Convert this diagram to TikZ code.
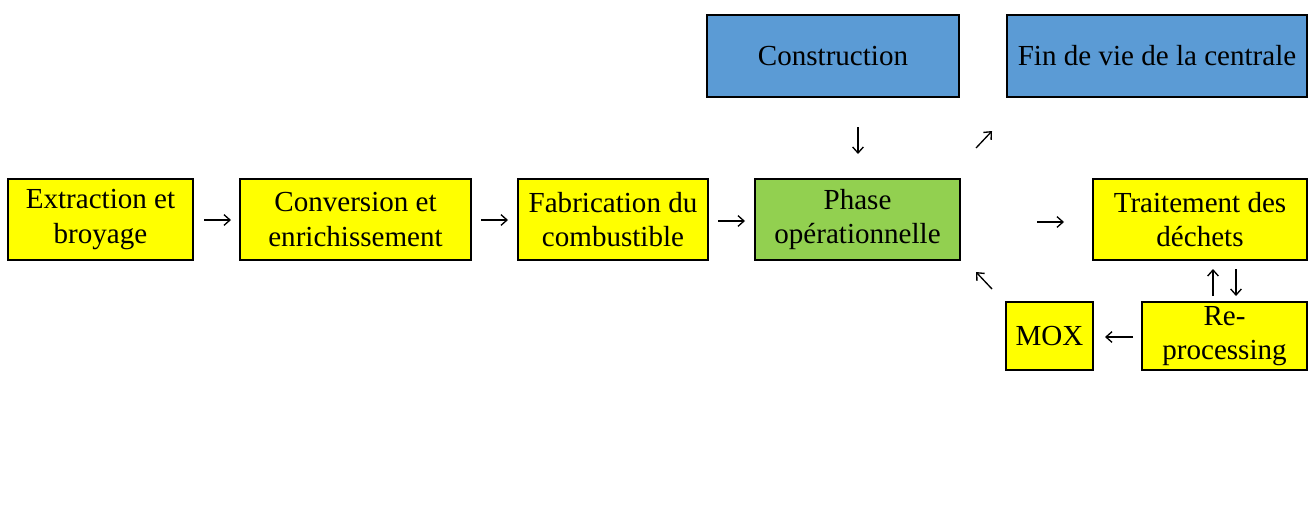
\documentclass[tikz,border=0pt]{standalone}
\usepackage{fontspec}
\setmainfont{Liberation Serif}
\usetikzlibrary{arrows.meta}
\definecolor{boxyellow}{HTML}{FFFF00}
\definecolor{boxgreen}{HTML}{92D050}
\definecolor{boxblue}{HTML}{5B9BD5}
\tikzset{
  box/.style={draw=black, line width=1.5pt, inner sep=0pt, align=center,
    font=\fontsize{21.8pt}{26pt}\selectfont},
  yb/.style={box, fill=boxyellow},
  gb/.style={box, fill=boxgreen},
  bb/.style={box, fill=boxblue},
  glyph/.style={line width=1pt, -{Straight Barb[length=4.5pt,width=8pt]}}
}
\begin{document}
\begin{tikzpicture}[x=0.75pt,y=-0.75pt]
\useasboundingbox (0,0) rectangle (1308,525);
% boxes
\node[yb, minimum width=138.75pt, minimum height=60.75pt] (ext) at (100.5,219.5) {Extraction et\\broyage};
\node[yb, minimum width=173.25pt, minimum height=60.75pt] (conv) at (355.5,219.5) {Conversion et\\enrichissement};
\node[yb, minimum width=142.5pt, minimum height=60.75pt] (fab) at (613,219.5) {Fabrication du\\combustible};
\node[gb, minimum width=153.75pt, minimum height=60.75pt] (phase) at (857.5,219.5) {Phase\\opérationnelle};
\node[bb, minimum width=189pt, minimum height=61.5pt] (cons) at (833,56) {Construction};
\node[bb, minimum width=225pt, minimum height=61.5pt] (fin) at (1157,56) {Fin de vie de la centrale};
\node[yb, minimum width=160.5pt, minimum height=60.75pt] (trait) at (1200,219.5) {Traitement des\\déchets};
\node[yb, minimum width=65.25pt, minimum height=51pt] (mox) at (1049.5,336) {MOX};
\node[yb, minimum width=123.75pt, minimum height=51pt] (repro) at (1224.5,336) {Re-\\processing};
% arrow end points
\coordinate (a1s) at (204,220); \coordinate (a1e) at (231,220);
\coordinate (a2s) at (481,220); \coordinate (a2e) at (508,220);
\coordinate (a3s) at (718,221); \coordinate (a3e) at (745,221);
\coordinate (a4s) at (858,127); \coordinate (a4e) at (858,154);
\coordinate (a5s) at (976,148); \coordinate (a5e) at (992,131);
\coordinate (a6s) at (1037,222); \coordinate (a6e) at (1064,222);
\coordinate (a7s) at (992,289); \coordinate (a7e) at (976,272);
\coordinate (a8s) at (1213,296); \coordinate (a8e) at (1213,269);
\coordinate (a9s) at (1236,269); \coordinate (a9e) at (1236,296);
\coordinate (a10s) at (1133,337); \coordinate (a10e) at (1105,337);
% arrows
\foreach \i in {1,...,10} {\draw[glyph] (a\i s) -- (a\i e);}
\end{tikzpicture}
\end{document}
